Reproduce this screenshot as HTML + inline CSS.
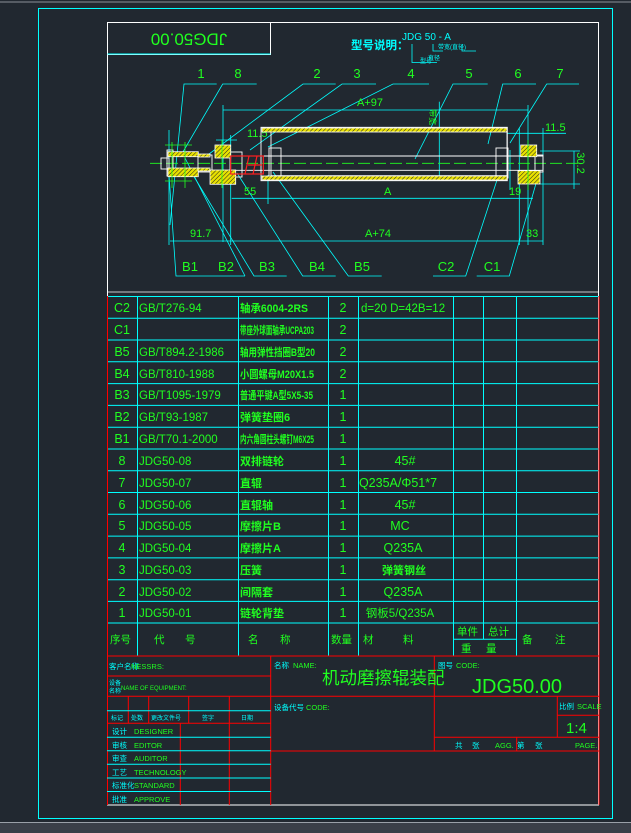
<!DOCTYPE html>
<html><head><meta charset="utf-8"><style>
html,body{margin:0;padding:0;background:#212830;}
svg{display:block}
text{font-family:"Liberation Sans","Noto Sans CJK SC",sans-serif;}
</style></head><body>
<svg width="631" height="833" viewBox="0 0 631 833" xmlns="http://www.w3.org/2000/svg">
<defs>
<pattern id="h" width="3" height="3" patternUnits="userSpaceOnUse" patternTransform="rotate(45)">
<rect width="3" height="3" fill="#e8e000"/><line x1="0" y1="0" x2="0" y2="3" stroke="#222" stroke-width="1"/>
</pattern>
</defs>
<rect width="631" height="833" fill="#212830"/>
<line x1="0" y1="2" x2="631" y2="2" stroke="#8a8f98" stroke-width="1"/>
<rect x="0" y="822" width="631" height="11" fill="#3a3f48"/>
<line x1="0" y1="822.5" x2="631" y2="822.5" stroke="#9aa0a8"/>
<rect x="38.5" y="8.5" width="574" height="810" fill="none" stroke="#00ffff" stroke-width="1"/>
<rect x="107.5" y="22.5" width="491" height="782.5" fill="none" stroke="#fff" stroke-width="1"/>

<path d="M107.5 54.5H270.5V22.5" fill="none" stroke="#fff"/>
<line x1="107.5" y1="54" x2="270.5" y2="54" stroke="#00ffff"/>
<text x="189" y="38" fill="#20ff20" font-size="17" text-anchor="middle" transform="rotate(180 189 38)" dominant-baseline="middle">JDG50.00</text>

<g fill="#00ffff" font-size="10">
<text x="351" y="49" font-size="11.5" font-weight="bold">型号说明：</text>
<text x="402" y="40">JDG 50 - A</text>
<text x="438" y="49" font-size="6">带宽(直径)</text>
<text x="428" y="60" font-size="6">直径</text>
<text x="420" y="63" font-size="6">型号</text>
</g>
<path d="M412 44V62.5H437M433 44V51H443M462 45V51H476" fill="none" stroke="#00ffff" stroke-width="0.8"/>

<g fill="#20ff20" font-size="13" text-anchor="middle">
<text x="201" y="78">1</text><text x="238" y="78">8</text><text x="317" y="78">2</text><text x="357" y="78">3</text>
<text x="411" y="78">4</text><text x="469" y="78">5</text><text x="518" y="78">6</text><text x="560" y="78">7</text>
<text x="190" y="271">B1</text><text x="226" y="271">B2</text><text x="267" y="271">B3</text><text x="317" y="271">B4</text>
<text x="362" y="271">B5</text><text x="446" y="271">C2</text><text x="492" y="271">C1</text>
</g>
<g stroke="#00ffff" stroke-width="0.8" fill="none">
<path d="M216.7 84H184L170 225"/>
<path d="M256.7 84H222.7L180 157"/>
<path d="M335.7 84H303L205 157"/>
<path d="M376 84H342L250 150"/>
<path d="M429 84H393L268 147"/>
<path d="M487.7 84H453L415 159"/>
<path d="M536 84H502.7L488 144"/>
<path d="M579 84H546.7L510 143"/>
<path d="M245 276H176L169 175"/>
<path d="M245 276L185 158"/>
<path d="M286.7 276H254L190 170"/>
<path d="M335.7 276H302.7L237 173"/>
<path d="M381.7 276H348.3L273 172"/>
<path d="M433 276H465.7L498 177"/>
<path d="M476.7 276H509.3L537 180"/>
<line x1="223" y1="110" x2="528" y2="110"/>
<line x1="223" y1="105" x2="223" y2="242"/>
<line x1="528" y1="105" x2="528" y2="245"/>
<line x1="216" y1="140" x2="237" y2="140"/>
<line x1="230.7" y1="135" x2="230.7" y2="245"/>
<line x1="506.7" y1="133.3" x2="566" y2="133.3"/>
<line x1="519.3" y1="128" x2="519.3" y2="245"/>
<line x1="543" y1="128" x2="543" y2="245"/>
<line x1="231.7" y1="198.3" x2="533" y2="198.3"/>
<line x1="268" y1="175" x2="268" y2="204"/>
<line x1="170" y1="241" x2="543" y2="241"/>
<line x1="169" y1="130" x2="169" y2="245"/>
<line x1="574" y1="151" x2="574" y2="189"/>
<line x1="540" y1="151" x2="580" y2="151"/>
<line x1="540" y1="184" x2="580" y2="184"/>
<line x1="439.3" y1="101.7" x2="439.3" y2="180"/>
<line x1="510" y1="150" x2="510" y2="190"/>
</g>
<g fill="#20ff20" font-size="11">
<text x="357" y="106">A+97</text>
<text x="247" y="137">11.5</text>
<text x="545" y="131">11.5</text>
<text x="244" y="195">55</text>
<text x="384" y="195">A</text>
<text x="509" y="195">19</text>
<text x="190" y="237">91.7</text>
<text x="365" y="237">A+74</text>
<text x="526" y="237">33</text>
<text x="577" y="163" transform="rotate(90 577 163)" text-anchor="middle">30.2</text>
<text x="430" y="117" font-size="8" transform="rotate(90 430 117)" text-anchor="middle">带宽</text>
</g>

<line x1="150" y1="163.3" x2="580" y2="163.3" stroke="#20ff20" stroke-width="0.8" stroke-dasharray="12 4"/>
<g stroke="#fff" stroke-width="0.9" fill="none">
<rect x="261" y="127.3" width="246.3" height="53.4"/>
<rect x="271" y="131.7" width="236" height="44"/>
<line x1="230" y1="156" x2="543" y2="156"/>
<line x1="230" y1="170.3" x2="543" y2="170.3"/>
<rect x="269" y="148" width="12" height="30"/>
<rect x="496" y="148" width="12" height="30"/>
<rect x="198" y="155" width="14" height="17"/>
<rect x="161" y="158" width="8" height="11"/>
<rect x="167" y="150" width="6" height="26"/>
<rect x="535" y="155" width="8" height="17"/>
<rect x="230" y="152" width="12" height="25"/>
</g>
<g fill="url(#h)" stroke="#fff" stroke-width="0.8">
<rect x="262" y="128" width="245" height="4"/>
<rect x="262" y="176" width="245" height="4"/>
<rect x="520.7" y="145" width="16" height="11.7"/>
<rect x="518" y="170.7" width="22" height="13.3"/>
<rect x="215" y="145" width="15.7" height="13"/>
<rect x="210" y="170" width="25.7" height="14.3"/>
<rect x="168" y="151.7" width="30.3" height="5"/>
<rect x="168" y="168" width="30.3" height="8.7"/>
<rect x="198" y="154" width="12" height="3"/>
<rect x="198" y="168" width="12" height="3"/>
</g>
<g stroke="#20ff20" stroke-width="0.8">
<line x1="172" y1="142" x2="172" y2="188"/>
<line x1="185" y1="142" x2="185" y2="188"/>
<line x1="165" y1="145" x2="192" y2="145"/>
<line x1="165" y1="181" x2="192" y2="181"/>
<line x1="222" y1="140" x2="222" y2="188"/>
<line x1="528" y1="140" x2="528" y2="190"/>
</g>
<g stroke="#ff2020" stroke-width="1.2" fill="none">
<rect x="230.7" y="156" width="32.6" height="18"/>
<path d="M245 174L249 156M253 174L257 156M248 165H262"/>
</g>

<line x1="107.5" y1="292" x2="598.5" y2="292" stroke="#fff" stroke-width="0.8"/>

<g stroke="#00ffff" stroke-width="1" fill="none">
<line x1="107" y1="296.5" x2="599" y2="296.5"/>
<line x1="107" y1="318.3" x2="599" y2="318.3"/>
<line x1="107" y1="340" x2="599" y2="340"/>
<line x1="107" y1="361.8" x2="599" y2="361.8"/>
<line x1="107" y1="383.6" x2="599" y2="383.6"/>
<line x1="107" y1="405.4" x2="599" y2="405.4"/>
<line x1="107" y1="427.2" x2="599" y2="427.2"/>
<line x1="107" y1="449" x2="599" y2="449"/>
<line x1="107" y1="470.7" x2="599" y2="470.7"/>
<line x1="107" y1="492.5" x2="599" y2="492.5"/>
<line x1="107" y1="514.3" x2="599" y2="514.3"/>
<line x1="107" y1="536.1" x2="599" y2="536.1"/>
<line x1="107" y1="557.9" x2="599" y2="557.9"/>
<line x1="107" y1="579.7" x2="599" y2="579.7"/>
<line x1="107" y1="601.4" x2="599" y2="601.4"/>
<line x1="107" y1="623" x2="599" y2="623"/>
<line x1="453" y1="639.3" x2="517" y2="639.3"/>
<line x1="137.5" y1="296" x2="137.5" y2="656"/>
<line x1="238.5" y1="296" x2="238.5" y2="656"/>
<line x1="328.5" y1="296" x2="328.5" y2="656"/>
<line x1="358.5" y1="296" x2="358.5" y2="656"/>
<line x1="453.5" y1="296" x2="453.5" y2="656"/>
<line x1="483.5" y1="296" x2="483.5" y2="639"/>
<line x1="516.5" y1="296" x2="516.5" y2="656"/>
</g>
<line x1="599" y1="296" x2="599" y2="805" stroke="#ff0000" stroke-width="1"/>
<line x1="107.5" y1="296" x2="107.5" y2="805" stroke="#ff0000" stroke-width="1"/>
<g fill="#20ff20" font-size="12.5">
<g text-anchor="middle">
<text x="122" y="312">C2</text><text x="122" y="334">C1</text><text x="122" y="356">B5</text><text x="122" y="378">B4</text>
<text x="122" y="399">B3</text><text x="122" y="421">B2</text><text x="122" y="443">B1</text><text x="122" y="465">8</text>
<text x="122" y="487">7</text><text x="122" y="509">6</text><text x="122" y="530">5</text><text x="122" y="552">4</text>
<text x="122" y="574">3</text><text x="122" y="596">2</text><text x="122" y="617">1</text>
<text x="343" y="312">2</text><text x="343" y="334">2</text><text x="343" y="356">2</text><text x="343" y="378">2</text>
<text x="343" y="399">1</text><text x="343" y="421">1</text><text x="343" y="443">1</text><text x="343" y="465">1</text>
<text x="343" y="487">1</text><text x="343" y="509">1</text><text x="343" y="530">1</text><text x="343" y="552">1</text>
<text x="343" y="574">1</text><text x="343" y="596">1</text><text x="343" y="617">1</text>
<text x="405" y="465">45#</text><text x="398" y="487">Q235A/Φ51*7</text><text x="405" y="509">45#</text>
<text x="400" y="530">MC</text><text x="403" y="552">Q235A</text><text x="404" y="574" font-size="11" font-weight="bold">弹簧钢丝</text>
<text x="400" y="617" font-size="11.5">钢板5/Q235A</text><text x="403" y="596">Q235A</text>
</g>
<text x="361" y="312" font-size="11.5">d=20 D=42B=12</text>
<g font-size="11.5">
<text x="139" y="312">GB/T276-94</text><text x="139" y="356">GB/T894.2-1986</text><text x="139" y="378">GB/T810-1988</text>
<text x="139" y="399">GB/T1095-1979</text><text x="139" y="421">GB/T93-1987</text><text x="139" y="443">GB/T70.1-2000</text>
<text x="139" y="465">JDG50-08</text><text x="139" y="487">JDG50-07</text><text x="139" y="509">JDG50-06</text>
<text x="139" y="530">JDG50-05</text><text x="139" y="552">JDG50-04</text><text x="139" y="574">JDG50-03</text>
<text x="139" y="596">JDG50-02</text><text x="139" y="617">JDG50-01</text>
</g>
<g font-size="11" font-weight="bold">
<text x="240" y="312" textLength="68" lengthAdjust="spacingAndGlyphs">轴承6004-2RS</text><text x="240" y="334" textLength="74" lengthAdjust="spacingAndGlyphs">带座外球面轴承UCPA203</text>
<text x="240" y="356" textLength="75" lengthAdjust="spacingAndGlyphs">轴用弹性挡圈B型20</text><text x="240" y="378" textLength="74" lengthAdjust="spacingAndGlyphs">小圆螺母M20X1.5</text>
<text x="240" y="399" textLength="73" lengthAdjust="spacingAndGlyphs">普通平键A型5X5-35</text><text x="240" y="421">弹簧垫圈6</text>
<text x="240" y="443" textLength="74" lengthAdjust="spacingAndGlyphs">内六角圆柱头螺钉M6X25</text><text x="240" y="465">双排链轮</text>
<text x="240" y="487">直辊</text><text x="240" y="509">直辊轴</text><text x="240" y="530">摩擦片B</text>
<text x="240" y="552">摩擦片A</text><text x="240" y="574">压簧</text><text x="240" y="596">间隔套</text><text x="240" y="617">链轮背垫</text>
</g>
<g font-size="10.5">
<text x="110" y="643">序号</text><text x="154" y="643">代</text><text x="185" y="643">号</text>
<text x="248" y="643">名</text><text x="280" y="643">称</text><text x="331" y="643">数量</text>
<text x="363" y="643">材</text><text x="403" y="643">料</text>
<text x="457" y="635">单件</text><text x="488" y="635">总计</text><text x="461" y="652">重</text><text x="486" y="652">量</text>
<text x="522" y="643">备</text><text x="555" y="643">注</text>
</g>
</g>

<g stroke="#ff0000" stroke-width="1" fill="none">
<line x1="107" y1="656" x2="599" y2="656"/>
<line x1="107" y1="676" x2="270.7" y2="676"/>
<line x1="107" y1="696.3" x2="599" y2="696.3"/>
<line x1="107" y1="723.3" x2="270.7" y2="723.3"/>
<line x1="270.7" y1="751" x2="599" y2="751"/>
<line x1="434.3" y1="737.3" x2="599" y2="737.3"/>
<line x1="557.3" y1="715.3" x2="599" y2="715.3"/>
<line x1="270.7" y1="656" x2="270.7" y2="805"/>
<line x1="434.3" y1="656" x2="434.3" y2="751"/>
<line x1="557.3" y1="696.3" x2="557.3" y2="737.3"/>
<line x1="516.7" y1="737.3" x2="516.7" y2="751"/>
<line x1="128.3" y1="696.3" x2="128.3" y2="723.3"/>
<line x1="148.7" y1="696.3" x2="148.7" y2="723.3"/>
<line x1="188.7" y1="696.3" x2="188.7" y2="723.3"/>
<line x1="229.3" y1="696.3" x2="229.3" y2="805"/>
<line x1="180.3" y1="723.3" x2="180.3" y2="805"/>
</g>
<g stroke="#00ffff" stroke-width="1">
<line x1="107" y1="710.7" x2="270.7" y2="710.7"/>
<line x1="107" y1="737.3" x2="270.7" y2="737.3"/>
<line x1="107" y1="750.7" x2="270.7" y2="750.7"/>
<line x1="107" y1="764.3" x2="270.7" y2="764.3"/>
<line x1="107" y1="778" x2="270.7" y2="778"/>
<line x1="107" y1="791.5" x2="270.7" y2="791.5"/>
</g>
<g font-size="7.5">
<text x="109" y="669" fill="#00ffff">客户名称</text><text x="131" y="669" fill="#20ff20">NESSRS:</text>
<text x="109" y="685" fill="#00ffff" font-size="6">设备</text><text x="109" y="693" fill="#00ffff" font-size="6">名称</text>
<text x="121" y="690" fill="#20ff20" font-size="6">NAME OF EQUIPMENT:</text>
<text x="111" y="720" fill="#00ffff" font-size="6">标记</text><text x="131" y="720" fill="#00ffff" font-size="6">处数</text>
<text x="151" y="720" fill="#00ffff" font-size="6">更改文件号</text><text x="202" y="720" fill="#00ffff" font-size="6">签字</text>
<text x="241" y="720" fill="#00ffff" font-size="6">日期</text>
<g fill="#00ffff"><text x="112" y="734">设计</text><text x="112" y="748">审核</text><text x="112" y="761">审查</text>
<text x="112" y="775">工艺</text><text x="112" y="788">标准化</text><text x="112" y="802">批准</text></g>
<g fill="#20ff20"><text x="134" y="734">DESIGNER</text><text x="134" y="748">EDITOR</text><text x="134" y="761">AUDITOR</text>
<text x="134" y="775">TECHNOLOGY</text><text x="134" y="788">STANDARD</text><text x="134" y="802">APPROVE</text></g>
<text x="274" y="668" fill="#00ffff">名称</text><text x="293" y="668" fill="#20ff20">NAME:</text>
<text x="274" y="710" fill="#00ffff">设备代号</text><text x="306" y="710" fill="#20ff20">CODE:</text>
<text x="438" y="668" fill="#00ffff">图号</text><text x="456" y="668" fill="#20ff20">CODE:</text>
<text x="559" y="709" fill="#00ffff">比例</text><text x="577" y="709" fill="#20ff20">SCALE</text>
<text x="455" y="748" fill="#00ffff">共</text><text x="472" y="748" fill="#00ffff">张</text><text x="495" y="748" fill="#20ff20">AGG.</text>
<text x="517" y="748" fill="#00ffff">第</text><text x="535" y="748" fill="#00ffff">张</text><text x="575" y="748" fill="#20ff20">PAGE.</text>
</g>
<text x="322" y="684" fill="#20ff20" font-size="17.5">机动磨擦辊装配</text>
<text x="472" y="693" fill="#20ff20" font-size="20">JDG50.00</text>
<text x="566" y="733" fill="#20ff20" font-size="15">1:4</text>
</svg>
</body></html>
